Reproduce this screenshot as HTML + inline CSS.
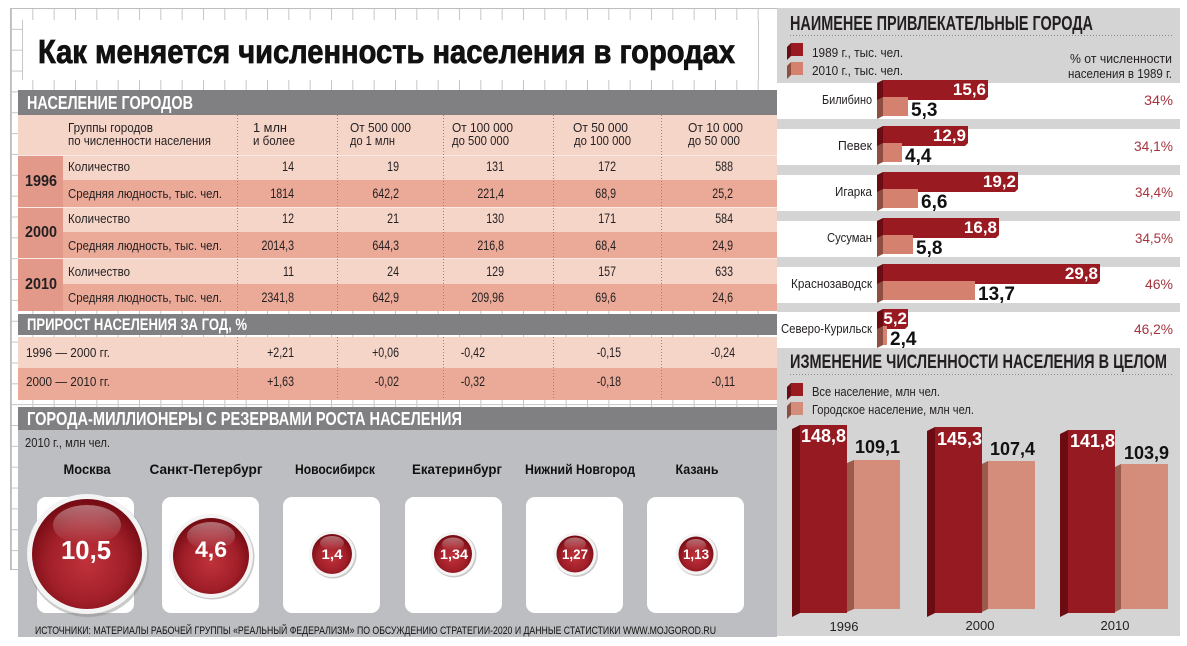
<!DOCTYPE html>
<html><head><meta charset="utf-8"><style>
html,body{margin:0;padding:0;background:#fff;}
svg{display:block;}
text{font-family:"Liberation Sans","DejaVu Sans",sans-serif;}
</style></head><body>
<svg width="1187" height="646" viewBox="0 0 1187 646" xmlns="http://www.w3.org/2000/svg">
<defs>
<pattern id="grid" x="11" y="8" width="21.333" height="20.85" patternUnits="userSpaceOnUse">
<path d="M0 0.5H21.333M0.5 0V20.85" stroke="#c6c6c6" stroke-width="1" fill="none"/>
</pattern>
<radialGradient id="ball" cx="50%" cy="58%" r="55%">
<stop offset="0" stop-color="#c0323b"/>
<stop offset="0.65" stop-color="#a11f29"/>
<stop offset="1" stop-color="#780c14"/>
</radialGradient>
<linearGradient id="gloss" x1="0" y1="0" x2="0" y2="1">
<stop offset="0" stop-color="#fff" stop-opacity="0.4"/>
<stop offset="1" stop-color="#fff" stop-opacity="0"/>
</linearGradient>
</defs>
<rect width="1187" height="646" fill="#fff"/>
<rect x="10" y="8" width="768" height="562" fill="url(#grid)"/>
<rect x="10.5" y="8.5" width="767" height="561" fill="none" stroke="#bdbdbd"/>

<!-- title box -->
<rect x="22" y="20" width="755" height="60" fill="#fff"/>
<line x1="22.5" y1="20" x2="22.5" y2="80" stroke="#c6c6c6"/>
<line x1="758.5" y1="20" x2="758.5" y2="80" stroke="#c6c6c6"/>
<text x="38" y="63" font-size="33" font-weight="bold" fill="#111" stroke="#111" stroke-width="0.8" textLength="697" lengthAdjust="spacingAndGlyphs">Как меняется численность населения в городах</text>

<!-- table -->
<rect x="18" y="90" width="759" height="25" fill="#808083"/>
<text x="27" y="109" font-size="18" font-weight="bold" fill="#fff" textLength="166" lengthAdjust="spacingAndGlyphs">НАСЕЛЕНИЕ ГОРОДОВ</text>
<rect x="18" y="115" width="759" height="40" fill="#f6d5c9"/>

<rect x="18" y="155" width="45" height="52" fill="#e3998a"/>
<rect x="63" y="155" width="714" height="25" fill="#f6d5c9"/>
<rect x="63" y="180" width="714" height="27" fill="#ebaa98"/>
<rect x="18" y="207" width="45" height="51" fill="#e3998a"/>
<rect x="63" y="207" width="714" height="25" fill="#f6d5c9"/>
<rect x="63" y="232" width="714" height="26" fill="#ebaa98"/>
<rect x="18" y="258" width="45" height="53" fill="#e3998a"/>
<rect x="63" y="258" width="714" height="26" fill="#f6d5c9"/>
<rect x="63" y="284" width="714" height="27" fill="#ebaa98"/>
<line x1="18" y1="155.5" x2="777" y2="155.5" stroke="#fbe8e0"/>
<line x1="18" y1="207.5" x2="777" y2="207.5" stroke="#fbe8e0"/>
<line x1="18" y1="258.5" x2="777" y2="258.5" stroke="#fbe8e0"/>

<rect x="18" y="314" width="759" height="21" fill="#808083"/>
<text x="27" y="330" font-size="17" font-weight="bold" fill="#fff" textLength="220" lengthAdjust="spacingAndGlyphs">ПРИРОСТ НАСЕЛЕНИЯ ЗА ГОД, %</text>
<rect x="18" y="337" width="759" height="31" fill="#f6d5c9"/>
<rect x="18" y="368" width="759" height="32" fill="#ebaa98"/>

<g stroke="#8e8480" stroke-dasharray="1 2" stroke-width="1">
<line x1="237.5" y1="115" x2="237.5" y2="311"/><line x1="337.5" y1="115" x2="337.5" y2="311"/>
<line x1="443.5" y1="115" x2="443.5" y2="311"/><line x1="553.5" y1="115" x2="553.5" y2="311"/>
<line x1="661.5" y1="115" x2="661.5" y2="311"/>
<line x1="237.5" y1="337" x2="237.5" y2="400"/><line x1="337.5" y1="337" x2="337.5" y2="400"/>
<line x1="443.5" y1="337" x2="443.5" y2="400"/><line x1="553.5" y1="337" x2="553.5" y2="400"/>
<line x1="661.5" y1="337" x2="661.5" y2="400"/>
</g>

<g font-size="13" fill="#231f20">
<text x="68" y="132" textLength="85" lengthAdjust="spacingAndGlyphs">Группы городов</text>
<text x="68" y="145" textLength="143" lengthAdjust="spacingAndGlyphs">по численности населения</text>
<text x="253" y="132" textLength="34" lengthAdjust="spacingAndGlyphs">1 млн</text>
<text x="253" y="145" textLength="42" lengthAdjust="spacingAndGlyphs">и более</text>
<text x="350" y="132" textLength="61" lengthAdjust="spacingAndGlyphs">От 500 000</text>
<text x="350" y="145" textLength="45" lengthAdjust="spacingAndGlyphs">до 1 млн</text>
<text x="452" y="132" textLength="61" lengthAdjust="spacingAndGlyphs">От 100 000</text>
<text x="452" y="145" textLength="57" lengthAdjust="spacingAndGlyphs">до 500 000</text>
<text x="573" y="132" textLength="55" lengthAdjust="spacingAndGlyphs">От 50 000</text>
<text x="574" y="145" textLength="57" lengthAdjust="spacingAndGlyphs">до 100 000</text>
<text x="688" y="132" textLength="55" lengthAdjust="spacingAndGlyphs">От 10 000</text>
<text x="688" y="145" textLength="52" lengthAdjust="spacingAndGlyphs">до 50 000</text>

<text x="68" y="171" textLength="62" lengthAdjust="spacingAndGlyphs">Количество</text>
<text x="68" y="198" textLength="154" lengthAdjust="spacingAndGlyphs">Средняя людность, тыс. чел.</text>
<text x="68" y="223" textLength="62" lengthAdjust="spacingAndGlyphs">Количество</text>
<text x="68" y="250" textLength="154" lengthAdjust="spacingAndGlyphs">Средняя людность, тыс. чел.</text>
<text x="68" y="276" textLength="62" lengthAdjust="spacingAndGlyphs">Количество</text>
<text x="68" y="302" textLength="154" lengthAdjust="spacingAndGlyphs">Средняя людность, тыс. чел.</text>
<text x="26" y="357" textLength="84" lengthAdjust="spacingAndGlyphs">1996 — 2000 гг.</text>
<text x="26" y="386" textLength="84" lengthAdjust="spacingAndGlyphs">2000 — 2010 гг.</text>
</g>

<g font-size="16" font-weight="bold" fill="#231f20">
<text x="25" y="186" textLength="32" lengthAdjust="spacingAndGlyphs">1996</text>
<text x="25" y="237" textLength="32" lengthAdjust="spacingAndGlyphs">2000</text>
<text x="25" y="289" textLength="32" lengthAdjust="spacingAndGlyphs">2010</text>
</g>

<g font-size="14" fill="#231f20" text-anchor="end">
<text transform="translate(294 171) scale(.76 1)">14</text>
<text transform="translate(399 171) scale(.76 1)">19</text>
<text transform="translate(504 171) scale(.76 1)">131</text>
<text transform="translate(616 171) scale(.76 1)">172</text>
<text transform="translate(733 171) scale(.76 1)">588</text>
<text transform="translate(294 198) scale(.76 1)">1814</text>
<text transform="translate(399 198) scale(.76 1)">642,2</text>
<text transform="translate(504 198) scale(.76 1)">221,4</text>
<text transform="translate(616 198) scale(.76 1)">68,9</text>
<text transform="translate(733 198) scale(.76 1)">25,2</text>
<text transform="translate(294 223) scale(.76 1)">12</text>
<text transform="translate(399 223) scale(.76 1)">21</text>
<text transform="translate(504 223) scale(.76 1)">130</text>
<text transform="translate(616 223) scale(.76 1)">171</text>
<text transform="translate(733 223) scale(.76 1)">584</text>
<text transform="translate(294 250) scale(.76 1)">2014,3</text>
<text transform="translate(399 250) scale(.76 1)">644,3</text>
<text transform="translate(504 250) scale(.76 1)">216,8</text>
<text transform="translate(616 250) scale(.76 1)">68,4</text>
<text transform="translate(733 250) scale(.76 1)">24,9</text>
<text transform="translate(294 276) scale(.76 1)">11</text>
<text transform="translate(399 276) scale(.76 1)">24</text>
<text transform="translate(504 276) scale(.76 1)">129</text>
<text transform="translate(616 276) scale(.76 1)">157</text>
<text transform="translate(733 276) scale(.76 1)">633</text>
<text transform="translate(294 302) scale(.76 1)">2341,8</text>
<text transform="translate(399 302) scale(.76 1)">642,9</text>
<text transform="translate(504 302) scale(.76 1)">209,96</text>
<text transform="translate(616 302) scale(.76 1)">69,6</text>
<text transform="translate(733 302) scale(.76 1)">24,6</text>
<text transform="translate(294 357) scale(.76 1)">+2,21</text>
<text transform="translate(399 357) scale(.76 1)">+0,06</text>
<text transform="translate(485 357) scale(.76 1)">-0,42</text>
<text transform="translate(621 357) scale(.76 1)">-0,15</text>
<text transform="translate(735 357) scale(.76 1)">-0,24</text>
<text transform="translate(294 386) scale(.76 1)">+1,63</text>
<text transform="translate(399 386) scale(.76 1)">-0,02</text>
<text transform="translate(485 386) scale(.76 1)">-0,32</text>
<text transform="translate(621 386) scale(.76 1)">-0,18</text>
<text transform="translate(735 386) scale(.76 1)">-0,11</text>
</g>

<!-- millionaires -->
<rect x="18" y="407" width="759" height="23" fill="#808083"/>
<text x="27" y="425" font-size="18" font-weight="bold" fill="#fff" textLength="435" lengthAdjust="spacingAndGlyphs">ГОРОДА-МИЛЛИОНЕРЫ С РЕЗЕРВАМИ РОСТА НАСЕЛЕНИЯ</text>
<rect x="18" y="430" width="759" height="207" fill="#bdbec1"/>
<text x="25" y="447" font-size="12.5" fill="#231f20" textLength="85" lengthAdjust="spacingAndGlyphs">2010 г., млн чел.</text>

<g font-size="13.5" font-weight="bold" fill="#111" text-anchor="middle">
<text x="87" y="474" textLength="47" lengthAdjust="spacingAndGlyphs">Москва</text>
<text x="206" y="474" textLength="113" lengthAdjust="spacingAndGlyphs">Санкт-Петербург</text>
<text x="335" y="474" textLength="80" lengthAdjust="spacingAndGlyphs">Новосибирск</text>
<text x="457" y="474" textLength="90" lengthAdjust="spacingAndGlyphs">Екатеринбург</text>
<text x="580" y="474" textLength="110" lengthAdjust="spacingAndGlyphs">Нижний Новгород</text>
<text x="697" y="474" textLength="43" lengthAdjust="spacingAndGlyphs">Казань</text>
</g>

<g fill="#fff">
<rect x="37" y="497" width="97" height="116" rx="9"/>
<rect x="162" y="497" width="97" height="116" rx="9"/>
<rect x="283" y="497" width="97" height="116" rx="9"/>
<rect x="405" y="497" width="97" height="116" rx="9"/>
<rect x="526" y="497" width="97" height="116" rx="9"/>
<rect x="647" y="497" width="97" height="116" rx="9"/>
</g>

<!-- balls -->
<g>
<circle cx="88" cy="556" r="61" fill="#8a8a8a" opacity="0.45"/>
<circle cx="87" cy="554" r="60" fill="#f4f4f4"/>
<circle cx="87" cy="554" r="55" fill="url(#ball)"/>
<ellipse cx="87" cy="525" rx="34" ry="20" fill="url(#gloss)"/>
<text x="86" y="559" font-size="26" font-weight="bold" fill="#fff" text-anchor="middle" textLength="50" lengthAdjust="spacingAndGlyphs">10,5</text>

<circle cx="212" cy="557" r="42.5" fill="#8a8a8a" opacity="0.45"/>
<circle cx="211" cy="556" r="42" fill="#f4f4f4"/>
<circle cx="211" cy="556" r="38" fill="url(#ball)"/>
<ellipse cx="211" cy="536" rx="24" ry="14" fill="url(#gloss)"/>
<text x="211" y="557" font-size="22" font-weight="bold" fill="#fff" text-anchor="middle" textLength="32" lengthAdjust="spacingAndGlyphs">4,6</text>

<circle cx="333" cy="555" r="23.5" fill="#8a8a8a" opacity="0.45"/>
<circle cx="332" cy="554" r="23" fill="#f4f4f4"/>
<circle cx="332" cy="554" r="20" fill="url(#ball)"/>
<ellipse cx="332" cy="543" rx="12" ry="7" fill="url(#gloss)"/>
<text x="332" y="559" font-size="14" font-weight="bold" fill="#fff" text-anchor="middle" textLength="21" lengthAdjust="spacingAndGlyphs">1,4</text>

<circle cx="454" cy="555" r="22.5" fill="#8a8a8a" opacity="0.45"/>
<circle cx="453" cy="554" r="22" fill="#f4f4f4"/>
<circle cx="453" cy="554" r="19" fill="url(#ball)"/>
<ellipse cx="453" cy="544" rx="11" ry="6.5" fill="url(#gloss)"/>
<text x="454" y="559" font-size="14" font-weight="bold" fill="#fff" text-anchor="middle" textLength="28" lengthAdjust="spacingAndGlyphs">1,34</text>

<circle cx="576" cy="555" r="22" fill="#8a8a8a" opacity="0.45"/>
<circle cx="575" cy="554" r="21.5" fill="#f4f4f4"/>
<circle cx="575" cy="554" r="18.5" fill="url(#ball)"/>
<ellipse cx="575" cy="544" rx="11" ry="6.5" fill="url(#gloss)"/>
<text x="575" y="559" font-size="14" font-weight="bold" fill="#fff" text-anchor="middle" textLength="26" lengthAdjust="spacingAndGlyphs">1,27</text>

<circle cx="697" cy="555" r="21" fill="#8a8a8a" opacity="0.45"/>
<circle cx="696" cy="554" r="20.5" fill="#f4f4f4"/>
<circle cx="696" cy="554" r="17.5" fill="url(#ball)"/>
<ellipse cx="696" cy="545" rx="10" ry="6" fill="url(#gloss)"/>
<text x="696" y="559" font-size="14" font-weight="bold" fill="#fff" text-anchor="middle" textLength="26" lengthAdjust="spacingAndGlyphs">1,13</text>
</g>

<text x="35" y="634" font-size="11" fill="#111" textLength="681" lengthAdjust="spacingAndGlyphs">ИСТОЧНИКИ: МАТЕРИАЛЫ РАБОЧЕЙ ГРУППЫ «РЕАЛЬНЫЙ ФЕДЕРАЛИЗМ» ПО ОБСУЖДЕНИЮ СТРАТЕГИИ-2020 И ДАННЫЕ СТАТИСТИКИ WWW.MOJGOROD.RU</text>

<!-- right panel -->
<rect x="777" y="8" width="403" height="628" fill="#d4d4d4"/>
<text x="790" y="30" font-size="20" font-weight="bold" fill="#231f20" textLength="303" lengthAdjust="spacingAndGlyphs">НАИМЕНЕЕ ПРИВЛЕКАТЕЛЬНЫЕ ГОРОДА</text>
<line x1="790" y1="35.5" x2="1172" y2="35.5" stroke="#8c8c8c" stroke-dasharray="1 2"/>

<polygon points="787,47 791,43 791,56 787,60" fill="#6a0c12"/>
<rect x="791" y="43" width="12" height="13" fill="#9a1a22"/>
<polygon points="787,66 791,62 791,75 787,79" fill="#8f4e42"/>
<rect x="791" y="62" width="12" height="13" fill="#d4826f"/>
<g font-size="12.5" fill="#231f20">
<text x="812" y="57" textLength="91" lengthAdjust="spacingAndGlyphs">1989 г., тыс. чел.</text>
<text x="812" y="75" textLength="91" lengthAdjust="spacingAndGlyphs">2010 г., тыс. чел.</text>
<text x="1172" y="63" text-anchor="end" textLength="102" lengthAdjust="spacingAndGlyphs">% от численности</text>
<text x="1172" y="78" text-anchor="end" textLength="104" lengthAdjust="spacingAndGlyphs">населения в 1989 г.</text>
</g>

<g fill="#fff">
<rect x="777" y="83" width="403" height="36"/>
<rect x="777" y="129" width="403" height="36"/>
<rect x="777" y="175" width="403" height="36"/>
<rect x="777" y="221" width="403" height="36"/>
<rect x="777" y="267" width="403" height="36"/>
<rect x="777" y="312" width="403" height="36"/>
</g>

<g font-size="13" fill="#231f20" text-anchor="end">
<text x="872" y="104" textLength="50" lengthAdjust="spacingAndGlyphs">Билибино</text>
<text x="872" y="150" textLength="34" lengthAdjust="spacingAndGlyphs">Певек</text>
<text x="872" y="196" textLength="37" lengthAdjust="spacingAndGlyphs">Игарка</text>
<text x="872" y="242" textLength="45" lengthAdjust="spacingAndGlyphs">Сусуман</text>
<text x="872" y="288" textLength="81" lengthAdjust="spacingAndGlyphs">Краснозаводск</text>
<text x="872" y="333" textLength="91" lengthAdjust="spacingAndGlyphs">Северо-Курильск</text>
</g>
<g font-size="14" fill="#a5343f" text-anchor="end">
<text x="1173" y="105" textLength="29" lengthAdjust="spacingAndGlyphs">34%</text>
<text x="1173" y="151" textLength="39" lengthAdjust="spacingAndGlyphs">34,1%</text>
<text x="1173" y="197" textLength="38" lengthAdjust="spacingAndGlyphs">34,4%</text>
<text x="1173" y="243" textLength="38" lengthAdjust="spacingAndGlyphs">34,5%</text>
<text x="1173" y="289" textLength="28" lengthAdjust="spacingAndGlyphs">46%</text>
<text x="1173" y="334" textLength="39" lengthAdjust="spacingAndGlyphs">46,2%</text>
</g>

<!-- horizontal bars -->
<g>
<polygon points="877,83 883,80 883,100 877,104" fill="#6a0c12"/>
<polygon points="883,80 988,80 988,97 985,100 883,100" fill="#9a1a22"/>
<polygon points="877,100 883,97 883,116 877,119" fill="#8f4e42"/>
<rect x="883" y="97" width="25" height="19" fill="#d4826f"/>
<polygon points="877,129 883,126 883,146 877,150" fill="#6a0c12"/>
<polygon points="883,126 968,126 968,143 965,146 883,146" fill="#9a1a22"/>
<polygon points="877,146 883,143 883,162 877,165" fill="#8f4e42"/>
<rect x="883" y="143" width="19" height="19" fill="#d4826f"/>
<polygon points="877,175 883,172 883,192 877,196" fill="#6a0c12"/>
<polygon points="883,172 1018,172 1018,189 1015,192 883,192" fill="#9a1a22"/>
<polygon points="877,192 883,189 883,208 877,211" fill="#8f4e42"/>
<rect x="883" y="189" width="35" height="19" fill="#d4826f"/>
<polygon points="877,221 883,218 883,238 877,242" fill="#6a0c12"/>
<polygon points="883,218 999,218 999,235 996,238 883,238" fill="#9a1a22"/>
<polygon points="877,238 883,235 883,254 877,257" fill="#8f4e42"/>
<rect x="883" y="235" width="30" height="19" fill="#d4826f"/>
<polygon points="877,267 883,264 883,284 877,288" fill="#6a0c12"/>
<polygon points="883,264 1100,264 1100,281 1097,284 883,284" fill="#9a1a22"/>
<polygon points="877,284 883,281 883,300 877,303" fill="#8f4e42"/>
<rect x="883" y="281" width="92" height="19" fill="#d4826f"/>
<polygon points="877,312 883,309 883,329 877,333" fill="#6a0c12"/>
<polygon points="883,309 908,309 908,326 905,329 883,329" fill="#9a1a22"/>
<polygon points="877,329 883,326 883,345 877,348" fill="#8f4e42"/>
<rect x="883" y="326" width="4" height="19" fill="#d4826f"/>
</g>
<g font-size="17" font-weight="bold" fill="#fff" text-anchor="end">
<text x="986" y="95">15,6</text>
<text x="966" y="141">12,9</text>
<text x="1016" y="187">19,2</text>
<text x="997" y="233">16,8</text>
<text x="1098" y="279">29,8</text>
<text x="907" y="324">5,2</text>
</g>
<g font-size="19" font-weight="bold" fill="#111">
<text x="911" y="116">5,3</text>
<text x="905" y="162">4,4</text>
<text x="921" y="208">6,6</text>
<text x="916" y="254">5,8</text>
<text x="978" y="300">13,7</text>
<text x="890" y="345">2,4</text>
</g>

<!-- bottom chart -->
<text x="790" y="368" font-size="19" font-weight="bold" fill="#231f20" textLength="377" lengthAdjust="spacingAndGlyphs">ИЗМЕНЕНИЕ ЧИСЛЕННОСТИ НАСЕЛЕНИЯ В ЦЕЛОМ</text>
<line x1="790" y1="374.5" x2="1172" y2="374.5" stroke="#8c8c8c" stroke-dasharray="1 2"/>
<polygon points="787,387 791,383 791,396 787,400" fill="#6a0c12"/>
<rect x="791" y="383" width="12" height="13" fill="#9a1a22"/>
<polygon points="787,406 791,402 791,415 787,419" fill="#8f4e42"/>
<rect x="791" y="402" width="12" height="13" fill="#d48d7b"/>
<g font-size="12.5" fill="#231f20">
<text x="812" y="396" textLength="128" lengthAdjust="spacingAndGlyphs">Все население, млн чел.</text>
<text x="812" y="414" textLength="162" lengthAdjust="spacingAndGlyphs">Городское население, млн чел.</text>
</g>

<g>
<polygon points="792,429 800,425 800,613 792,617" fill="#6a0c12"/>
<rect x="800" y="425" width="47" height="188" fill="#961a22"/>
<polygon points="847,463 854,460 854,609 847,612" fill="#9b5a4b"/>
<rect x="854" y="460" width="46" height="149" fill="#d48d7b"/>

<polygon points="927,431 935,427 935,613 927,617" fill="#6a0c12"/>
<rect x="935" y="427" width="47" height="186" fill="#961a22"/>
<polygon points="982,464 988,461 988,609 982,612" fill="#9b5a4b"/>
<rect x="988" y="461" width="47" height="148" fill="#d48d7b"/>

<polygon points="1060,434 1068,430 1068,613 1060,617" fill="#6a0c12"/>
<rect x="1068" y="430" width="47" height="183" fill="#961a22"/>
<polygon points="1115,467 1121,464 1121,609 1115,612" fill="#9b5a4b"/>
<rect x="1121" y="464" width="47" height="145" fill="#d48d7b"/>
</g>
<g font-size="18" font-weight="bold">
<text x="801" y="442" fill="#fff">148,8</text>
<text x="855" y="453" fill="#111">109,1</text>
<text x="937" y="445" fill="#fff">145,3</text>
<text x="990" y="455" fill="#111">107,4</text>
<text x="1070" y="447" fill="#fff">141,8</text>
<text x="1124" y="459" fill="#111">103,9</text>
</g>
<g font-size="13" fill="#231f20" text-anchor="middle">
<text x="844" y="631">1996</text>
<text x="980" y="630">2000</text>
<text x="1115" y="630">2010</text>
</g>
</svg>
</body></html>
